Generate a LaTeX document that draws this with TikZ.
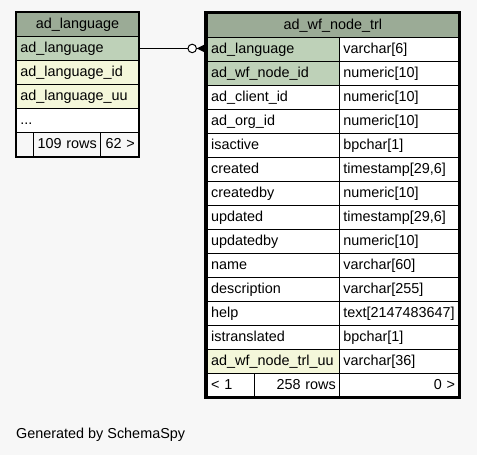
\documentclass[tikz,border=0pt]{standalone}
\usepackage{fontspec}
\setmainfont{Liberation Sans}
\usetikzlibrary{calc}
\definecolor{bgc}{HTML}{F7F7F7}
\definecolor{headc}{HTML}{9BAB96}
\definecolor{pkc}{HTML}{BED1B8}
\definecolor{idxc}{HTML}{F4F7DA}
\tikzset{
  cell/.style={draw=black, line width=0.9pt, rectangle, anchor=north west, inner xsep=4pt, inner ysep=0pt,
    minimum height=24pt, text height=10.5pt, text depth=3pt, font=\fontsize{14.4}{16}\selectfont},
  lcell/.style={cell, align=left, text width=#1-8pt, minimum width=#1},
  rcell/.style={cell, align=right, inner xsep=3.6pt, text width=#1-7.2pt, minimum width=#1},
  ccell/.style={cell, align=center, text width=#1-8pt, minimum width=#1},
}
\begin{document}
\begin{tikzpicture}[x=1pt,y=-1pt]
\fill[bgc] (0,0) rectangle (477,455);
\useasboundingbox (0,0) rectangle (477,455);
% left table ad_language
\node[ccell=122pt, fill=headc] (lh) at (16,12) {ad\_language};
\node[lcell=122pt, fill=pkc] (l1) at (16,36) {ad\_language};
\node[lcell=122pt, fill=idxc] (l2) at (16,60) {ad\_language\_id};
\node[lcell=122pt, fill=idxc] (l3) at (16,84) {ad\_language\_uu};
\node[lcell=122pt, fill=white] (l4) at (16,108) {...};
\node[lcell=17pt, fill=bgc] (lf1) at (16,132) {};
\node[rcell=67pt, fill=bgc] (lf2) at (33,132) {109 rows};
\node[rcell=38pt, fill=bgc] (lf3) at (100,132) {62 >};
\draw[line width=1pt] (15,11.5) rectangle (139,157);
% right table ad_wf_node_trl
\node[ccell=251.6pt, fill=headc] (rh) at (206.7,13) {ad\_wf\_node\_trl};
\foreach \n/\a/\b/\c [count=\i] in {
  r1/ad\_language/varchar[6]/pkc,
  r2/ad\_wf\_node\_id/numeric[10]/pkc,
  r3/ad\_client\_id/numeric[10]/white,
  r4/ad\_org\_id/numeric[10]/white,
  r5/isactive/bpchar[1]/white,
  r6/created/{timestamp[29,6]}/white,
  r7/createdby/numeric[10]/white,
  r8/updated/{timestamp[29,6]}/white,
  r9/updatedby/numeric[10]/white,
  r10/name/varchar[60]/white,
  r11/description/varchar[255]/white,
  r12/help/text[2147483647]/white,
  r13/istranslated/bpchar[1]/white,
  r14/ad\_wf\_node\_trl\_uu/varchar[36]/idxc}{
  \node[lcell=132.3pt, fill=\c] (\n) at (206.7,{37+24*(\i-1)}) {\a};
  \node[lcell=119.3pt, fill=white] (\n t) at (339,{37+24*(\i-1)}) {\b};
}
\node[lcell=47.3pt, fill=white] (rf1) at (206.7,373) {< 1};
\node[rcell=85pt, fill=white] (rf2) at (254,373) {258 rows};
\node[rcell=119.3pt, fill=white] (rf3) at (339,373) {0 >};
\draw[line width=2.7pt] (205.3,12.3) rectangle (460,397.7);
% connector
\coordinate (fk) at (l1.east -| r1.west);
\draw[line width=1pt] (l1.east) -- ($(fk)+(-9,0)$);
\node[circle, draw=black, line width=1pt, fill=white, minimum size=8.5pt, inner sep=0pt] (odot) at ($(fk)+(-14.5,0)$) {};
\fill[black] ($(fk)+(-10,0)$) -- ($(fk)+(0,-5)$) -- ($(fk)+(0,5)$) -- cycle;
\draw[line width=1pt] ($(fk)+(-10,0)$) -- (fk);
% footer
\node[anchor=west, inner sep=0pt, font=\fontsize{14.4}{16}\selectfont] (gen) at (16,435) {Generated by SchemaSpy};
\end{tikzpicture}
\end{document}
